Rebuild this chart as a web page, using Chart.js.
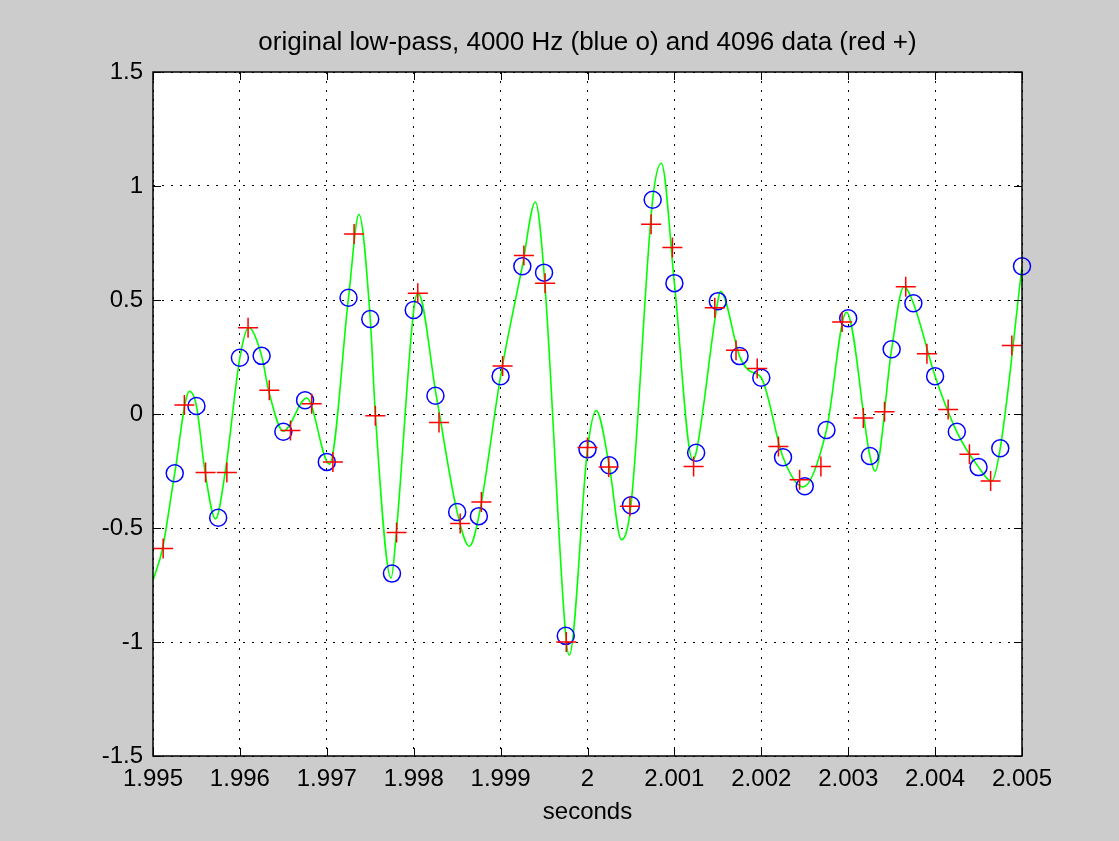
<!DOCTYPE html>
<html>
<head>
<meta charset="utf-8">
<script src="https://cdn.jsdelivr.net/npm/chart.js@4.4.0/dist/chart.umd.min.js"></script>
<style>
  html, body { margin: 0; padding: 0; background: #cccccc; }
</style>
</head>
<body>
<canvas id="myChart" width="1119" height="841"></canvas>
<script>
const titleText = 'original low-pass, 4000 Hz (blue o) and 4096 data (red +)'
const xLabel = 'seconds'
const xTickLabels = ['1.995', '1.996', '1.997', '1.998', '1.999', '2', '2.001', '2.002', '2.003', '2.004', '2.005']
const yTickLabels = ['-1.5', '-1', '-0.5', '0', '0.5', '1', '1.5']

// original low-pass signal (green)
const greenTimes = [
    1.99500, 1.99511, 1.99525, 1.99542, 1.99550, 1.99560, 1.99572, 1.99583, 1.99600, 1.99610,
    1.99625, 1.99633, 1.99650, 1.99677, 1.99703, 1.99725, 1.99737, 1.99750, 1.99756, 1.99774,
    1.99780, 1.99800, 1.99805, 1.99826, 1.99850, 1.99864, 1.99875, 1.99900, 1.99925, 1.99940,
    1.99950, 1.99975, 1.99979, 2.00000, 2.00010, 2.00025, 2.00039, 2.00050, 2.00075, 2.00085,
    2.00100, 2.00121, 2.00125, 2.00150, 2.00153, 2.00175, 2.00186, 2.00200, 2.00225, 2.00248,
    2.00275, 2.00298, 2.00325, 2.00331, 2.00350, 2.00364, 2.00375, 2.00400, 2.00425, 2.00450,
    2.00465, 2.00475, 2.00500
]
const greenValues = [
    -0.73, -0.59, -0.26, 0.10, 0.035, -0.257, -0.46, -0.257, 0.247, 0.38,
    0.255, 0.104, -0.075, 0.07, -0.22, 0.51, 0.875, 0.417, -0.01, -0.72,
    -0.52, 0.456, 0.53, 0.08, -0.43, -0.58, -0.448, 0.166, 0.648, 0.93,
    0.62, -0.973, -1.057, -0.155, 0.015, -0.225, -0.552, -0.40, 0.94, 1.10,
    0.574, -0.20, -0.17, 0.495, 0.538, 0.254, 0.19, 0.159, -0.19, -0.32,
    -0.07, 0.446, -0.184, -0.25, 0.284, 0.558, 0.486, 0.166, -0.078, -0.233,
    -0.295, -0.15, 0.648
]

// 4000 Hz resampled (blue o)
const blueTimes = [
    1.99525, 1.99550, 1.99575, 1.99600, 1.99625, 1.99650, 1.99675, 1.99700, 1.99725, 1.99750,
    1.99775, 1.99800, 1.99825, 1.99850, 1.99875, 1.99900, 1.99925, 1.99950, 1.99975, 2.00000,
    2.00025, 2.00050, 2.00075, 2.00100, 2.00125, 2.00150, 2.00175, 2.00200, 2.00225, 2.00250,
    2.00275, 2.00300, 2.00325, 2.00350, 2.00375, 2.00400, 2.00425, 2.00450, 2.00475, 2.00500
]
const blueValues = [
    -0.26, 0.035, -0.455, 0.247, 0.255, -0.078, 0.06, -0.21, 0.51, 0.417,
    -0.70, 0.456, 0.08, -0.43, -0.448, 0.166, 0.648, 0.62, -0.973, -0.155,
    -0.225, -0.40, 0.94, 0.574, -0.17, 0.495, 0.254, 0.159, -0.19, -0.317,
    -0.07, 0.42, -0.184, 0.284, 0.486, 0.166, -0.078, -0.233, -0.15, 0.648
]

// 4096 Hz data (red +)
const redTimes = [
    1.995117, 1.995361, 1.995605, 1.995850, 1.996094, 1.996338, 1.996582, 1.996826, 1.997070, 1.997314,
    1.997559, 1.997803, 1.998047, 1.998291, 1.998535, 1.998779, 1.999023, 1.999268, 1.999512, 1.999756,
    2.000000, 2.000244, 2.000488, 2.000732, 2.000977, 2.001221, 2.001465, 2.001709, 2.001953, 2.002197,
    2.002441, 2.002686, 2.002930, 2.003174, 2.003418, 2.003662, 2.003906, 2.004150, 2.004395, 2.004639,
    2.004883
]
const redValues = [
    -0.59, 0.04, -0.257, -0.257, 0.378, 0.104, -0.072, 0.045, -0.21, 0.79,
    -0.008, -0.52, 0.53, -0.037, -0.48, -0.386, 0.21, 0.695, 0.574, -1.0,
    -0.147, -0.233, -0.405, 0.832, 0.73, -0.23, 0.466, 0.28, 0.20, -0.143,
    -0.288, -0.23, 0.403, -0.018, 0.01, 0.558, 0.264, 0.02, -0.176, -0.294,
    0.30
]

const toPoints = (xs, ys) => xs.map((x, i) => ({ x: x, y: ys[i] }))
const fontFamily = '"Liberation Sans", Arial, Helvetica, sans-serif'

// white axes background, solid box, inward ticks and a title centred over the axes
const matlabAxes = {
    id: 'matlabAxes',
    beforeDraw(chart) {
        const { ctx, chartArea: a } = chart
        ctx.save()
        ctx.fillStyle = '#ffffff'
        ctx.fillRect(a.left, a.top, a.right - a.left, a.bottom - a.top)
        ctx.restore()
    },
    afterDraw(chart) {
        const { ctx, chartArea: a, scales: { x, y } } = chart
        ctx.save()
        ctx.strokeStyle = '#000000'
        ctx.lineWidth = 1
        ctx.beginPath()
        x.ticks.forEach(t => {
            const px = Math.round(x.getPixelForValue(t.value)) + 0.5
            ctx.moveTo(px, a.bottom); ctx.lineTo(px, a.bottom - 8)
            ctx.moveTo(px, a.top); ctx.lineTo(px, a.top + 8)
        })
        y.ticks.forEach(t => {
            const py = Math.round(y.getPixelForValue(t.value)) + 0.5
            ctx.moveTo(a.left, py); ctx.lineTo(a.left + 8, py)
            ctx.moveTo(a.right, py); ctx.lineTo(a.right - 8, py)
        })
        ctx.stroke()
        ctx.lineWidth = 1.5
        ctx.strokeRect(a.left, a.top, a.right - a.left, a.bottom - a.top)

        ctx.fillStyle = '#000000'
        ctx.font = '26px ' + fontFamily
        ctx.textAlign = 'center'
        ctx.textBaseline = 'middle'
        ctx.fillText(titleText, (a.left + a.right) / 2, 43)
        ctx.restore()
    }
}

const ctx = document.getElementById('myChart').getContext('2d')
const myChart = new Chart(ctx, {
    type: 'scatter',
    data: {
        datasets: [{
            label: '4096 data',
            data: toPoints(redTimes, redValues),
            pointStyle: 'cross',
            pointRadius: 10,
            pointBorderWidth: 1.5,
            borderColor: '#ff0000',
            backgroundColor: 'rgba(0,0,0,0)',
            clip: false,
            order: 1,
        }, {
            label: '4000 Hz',
            data: toPoints(blueTimes, blueValues),
            pointStyle: 'circle',
            pointRadius: 8.5,
            pointBorderWidth: 1.5,
            borderColor: '#0000ff',
            backgroundColor: 'rgba(0,0,0,0)',
            clip: false,
            order: 2,
        }, {
            label: 'original low-pass',
            data: toPoints(greenTimes, greenValues),
            showLine: true,
            cubicInterpolationMode: 'monotone',
            pointRadius: 0,
            borderWidth: 1.6,
            borderColor: '#00ff00',
            backgroundColor: '#00ff00',
            order: 3,
        }]
    },
    options: {
        responsive: false,
        animation: false,
        events: [],
        layout: { padding: { left: 0, right: 97, top: 72, bottom: 0 } },
        plugins: {
            legend: { display: false },
            tooltip: { enabled: false },
            title: { display: false },
        },
        scales: {
            x: {
                type: 'linear',
                min: 1.995,
                max: 2.005,
                afterFit: s => { s.height = 85 },
                ticks: {
                    stepSize: 0.001,
                    autoSkip: false,
                    maxRotation: 0,
                    padding: 9,
                    color: '#000000',
                    font: { family: fontFamily, size: 24 },
                    callback: (v, i) => xTickLabels[i],
                },
                grid: { color: '#000000', lineWidth: 1, drawTicks: false },
                border: { display: false, dash: [2, 7] },
                title: {
                    display: true,
                    text: xLabel,
                    color: '#000000',
                    font: { family: fontFamily, size: 24, lineHeight: 1.2 },
                    padding: { top: 0, bottom: 14 },
                },
            },
            y: {
                type: 'linear',
                min: -1.5,
                max: 1.5,
                afterFit: s => { s.width = 153 },
                ticks: {
                    stepSize: 0.5,
                    padding: 10,
                    color: '#000000',
                    font: { family: fontFamily, size: 24 },
                    callback: (v, i) => yTickLabels[i],
                },
                grid: { color: '#000000', lineWidth: 1, drawTicks: false },
                border: { display: false, dash: [2, 7] },
            },
        },
    },
    plugins: [matlabAxes],
})
</script>
</body>
</html>
